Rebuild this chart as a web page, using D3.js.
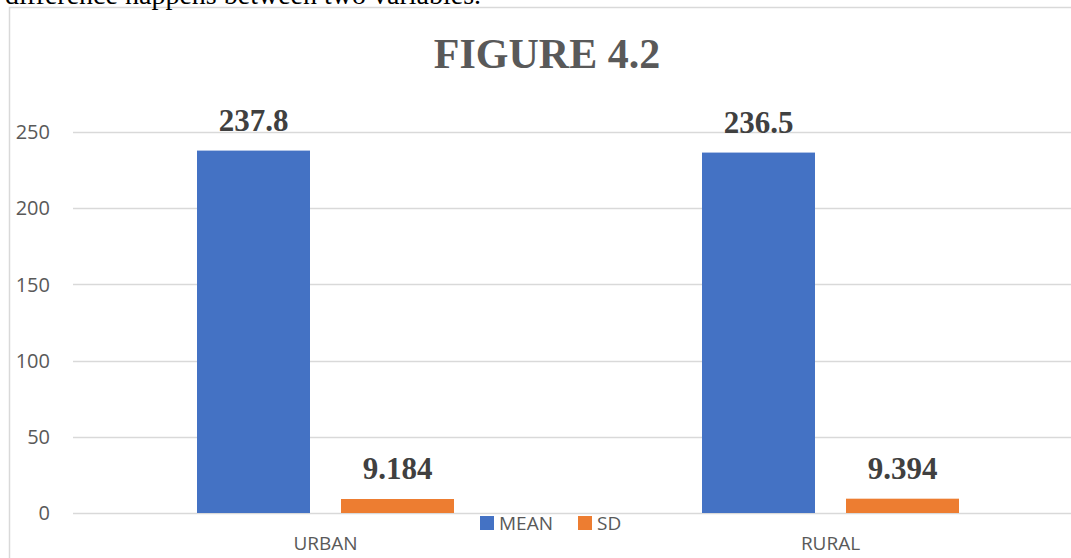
<!DOCTYPE html>
<html>
<head>
<meta charset="utf-8">
<script src="https://cdn.jsdelivr.net/npm/d3@7"></script>
<style>
  html, body { margin: 0; padding: 0; background: #fff; overflow: hidden; }
  svg { display: block; }
</style>
</head>
<body>
<svg id="chart" width="1071" height="558"></svg>
<script>
const categories = ["URBAN", "RURAL"];
const seriesNames = ["MEAN", "SD"];
const meanValues = [237.8, 236.5];
const sdValues = [9.184, 9.394];
const meanLabels = ["237.8", "236.5"];
const sdLabels = ["9.184", "9.394"];
const yTicks = [0, 50, 100, 150, 200, 250];
const colors = ["#4472C4", "#ED7D31"];

const svg = d3.select("#chart");
const sansFont = "Open Sans, Lato, sans-serif";
const serifFont = "Liberation Serif, Times New Roman, serif";

// chart frame
svg.append("rect")
  .attr("x", 9.5).attr("y", 7.5)
  .attr("width", 1100).attr("height", 600)
  .attr("fill", "#fff").attr("stroke", "#D9D9D9").attr("stroke-width", 1.5);

// clipped document text above the chart
svg.append("text")
  .attr("x", 5).attr("y", 4)
  .attr("font-family", serifFont)
  .attr("font-size", 28)
  .attr("fill", "#000")
  .text("difference happens between two variables.");

const plotLeft = 73, plotRight = 1083;
const y = d3.scaleLinear().domain([0, 250]).range([513, 132]);
const x0 = d3.scaleBand().domain(categories).range([plotLeft, plotRight]).paddingInner(0).paddingOuter(0);
const groupInner = 257;
const x1 = d3.scaleBand().domain(seriesNames)
  .range([(x0.bandwidth() - groupInner) / 2, (x0.bandwidth() + groupInner) / 2])
  .paddingInner(31 / 144).paddingOuter(0);

// gridlines
svg.append("g").selectAll("line").data(yTicks).join("line")
  .attr("x1", plotLeft).attr("x2", plotRight)
  .attr("y1", d => Math.round(y(d)) + 0.5).attr("y2", d => Math.round(y(d)) + 0.5)
  .attr("stroke", "#D9D9D9").attr("stroke-width", 1.5);

// y tick labels
svg.append("g").selectAll("text").data(yTicks).join("text")
  .attr("x", 50).attr("y", d => y(d)).attr("dy", "0.36em")
  .attr("text-anchor", "end")
  .attr("font-family", sansFont)
  .attr("font-size", 20).attr("fill", "#595959")
  .text(d => d);

// title
svg.append("text")
  .attr("x", 547).attr("y", 68)
  .attr("text-anchor", "middle")
  .attr("font-family", serifFont)
  .attr("font-weight", "bold").attr("font-size", 42)
  .attr("fill", "#595959")
  .text("FIGURE 4.2");

const data = categories.map((c, i) => ({
  cat: c,
  vals: [
    { s: "MEAN", v: meanValues[i], label: meanLabels[i], color: colors[0] },
    { s: "SD", v: sdValues[i], label: sdLabels[i], color: colors[1] }
  ]
}));

const groups = svg.append("g").selectAll("g").data(data).join("g")
  .attr("transform", d => `translate(${x0(d.cat)},0)`);

groups.selectAll("rect").data(d => d.vals).join("rect")
  .attr("x", d => x1(d.s)).attr("width", x1.bandwidth())
  .attr("y", d => y(d.v)).attr("height", d => y(0) - y(d.v))
  .attr("fill", d => d.color);

groups.selectAll("text.lbl").data(d => d.vals).join("text")
  .attr("class", "lbl")
  .attr("x", d => x1(d.s) + x1.bandwidth() / 2)
  .attr("y", d => y(d.v) - 20)
  .attr("text-anchor", "middle")
  .attr("font-family", serifFont)
  .attr("font-weight", "bold").attr("font-size", 31)
  .attr("fill", "#404040")
  .text(d => d.label);

// category labels
svg.append("g").selectAll("text").data(categories).join("text")
  .attr("x", d => x0(d) + x0.bandwidth() / 2)
  .attr("y", 550)
  .attr("text-anchor", "middle")
  .attr("font-family", sansFont)
  .attr("font-size", 19).attr("fill", "#595959")
  .text(d => d);

// legend
const legend = svg.append("g");
const legendItems = [
  { name: seriesNames[0], color: colors[0], x: 480 },
  { name: seriesNames[1], color: colors[1], x: 578 }
];
legend.selectAll("rect").data(legendItems).join("rect")
  .attr("x", d => d.x).attr("y", 516).attr("width", 14).attr("height", 14)
  .attr("fill", d => d.color);
legend.selectAll("text").data(legendItems).join("text")
  .attr("x", d => d.x + 19).attr("y", 530)
  .attr("font-family", sansFont)
  .attr("font-size", 19).attr("fill", "#595959")
  .text(d => d.name);
</script>
</body>
</html>
